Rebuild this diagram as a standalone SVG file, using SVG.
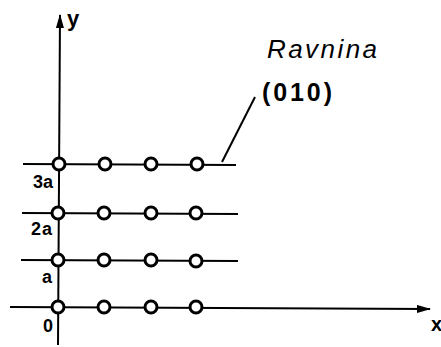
<svg xmlns="http://www.w3.org/2000/svg" width="441" height="347" viewBox="0 0 441 347">
<style>
.ln{stroke:#000;stroke-width:2;fill:none}
.at{fill:#fff;stroke:#000;stroke-width:3}
.t{font-family:"Liberation Sans",Arial,sans-serif;fill:#000}
.b{font-weight:bold}
</style>
<defs>
<marker id="ah" markerWidth="14" markerHeight="8" refX="13" refY="4" orient="auto" markerUnits="userSpaceOnUse">
<path d="M0,0 L14,4 L0,8 Z" fill="#000"/>
</marker>
</defs>
<rect width="441" height="347" fill="#fff"/>
<g id="connectors">
<line class="ln" x1="58" y1="345" x2="60" y2="15" marker-end="url(#ah)"/>
<line class="ln" x1="10" y1="307" x2="430" y2="309" marker-end="url(#ah)"/>
<line class="ln" x1="21" y1="260" x2="238" y2="261"/>
<line class="ln" x1="22" y1="213" x2="238" y2="214"/>
<line class="ln" x1="23" y1="164" x2="236" y2="165"/>
<line class="ln" x1="222" y1="162" x2="255" y2="97" stroke-width="1.5"/>
</g>
<g id="atoms">
<circle class="at" cx="58" cy="307" r="6"/>
<circle class="at" cx="104" cy="307" r="6"/>
<circle class="at" cx="151" cy="307" r="6"/>
<circle class="at" cx="196" cy="307" r="6"/>
<circle class="at" cx="58" cy="260" r="6"/>
<circle class="at" cx="104" cy="260" r="6"/>
<circle class="at" cx="151" cy="260" r="6"/>
<circle class="at" cx="196" cy="261" r="6"/>
<circle class="at" cx="58" cy="213" r="6"/>
<circle class="at" cx="104" cy="213" r="6"/>
<circle class="at" cx="151" cy="213" r="6"/>
<circle class="at" cx="196" cy="213" r="6"/>
<circle class="at" cx="59" cy="164" r="6"/>
<circle class="at" cx="105" cy="164" r="6"/>
<circle class="at" cx="151" cy="164" r="6"/>
<circle class="at" cx="197" cy="164" r="6"/>
</g>
<g id="labels">
<text class="t b" x="67" y="26" font-size="22">y</text>
<text class="t b" x="431" y="331" font-size="20">x</text>
<text class="t b" x="33" y="188" font-size="18" textLength="20">3a</text>
<text class="t b" x="31" y="235" font-size="18" textLength="21">2a</text>
<text class="t b" x="42" y="283" font-size="18">a</text>
<text class="t b" x="43" y="332" font-size="18">0</text>
<text class="t" x="267" y="58" font-size="26" font-style="italic" textLength="110">Ravnina</text>
<text class="t b" x="262" y="101" font-size="25" textLength="70">(010)</text>
</g>
</svg>
